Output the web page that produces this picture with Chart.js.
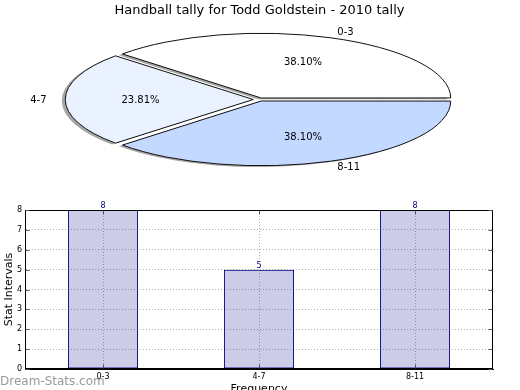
<!DOCTYPE html>
<html>
<head>
<meta charset="utf-8">
<script src="https://cdn.jsdelivr.net/npm/chart.js@4/dist/chart.umd.min.js"></script>
<style>
  html, body { margin: 0; padding: 0; background: #fff; }
  #wrap { position: relative; width: 520px; height: 390px; overflow: hidden; }
  #wrap canvas { position: absolute; left: 0; top: 0; }
</style>
</head>
<body>
<div id="wrap">
  <canvas id="barChart" width="520" height="390"></canvas>
  <canvas id="pieChart" width="520" height="390"></canvas>
</div>
<script>
'use strict';

// ── 데이터 ────────────────────────────────────────────
const TITLE = 'Handball tally for Todd Goldstein - 2010 tally';
const CATEGORIES = ['0-3', '4-7', '8-11'];
const COUNTS = [8, 5, 8];
const Y_TICKS = [0, 1, 2, 3, 4, 5, 6, 7, 8];
const PIE_COLORS = ['#ffffff', '#eaf1ff', '#c4d9ff'];

const FONT = '"DejaVu Sans", sans-serif';

// ── 파이 (타원) 설정 ──────────────────────────────────
const PIE_CX = 259.5, PIE_CY = 99.5;
const RX = 188, RY = 64.2;
const K = RY / RX;
const EXPLODE = 0.033;           // 반지름 대비
const DISP = EXPLODE * RX;       // 원 좌표계에서 밀려나는 거리

const total = COUNTS.reduce((s, v) => s + v, 0);

// Chart.js arc offset → 실제 이동량 보정
function arcOffset(c) {
  const circ = COUNTS[c.dataIndex] / total * Math.PI * 2;
  const fix = 1 - Math.sin(Math.min(Math.PI, circ));
  return 4 * DISP / (1 + fix);
}

const ellipsePlugin = {
  id: 'ellipse',
  beforeDatasetsDraw(chart) {
    const ctx = chart.ctx;
    const arc = chart.getDatasetMeta(0).data[0];
    ctx.save();
    ctx.translate(PIE_CX, PIE_CY);
    ctx.scale(1, -K);
    ctx.translate(-arc.x, -arc.y);
    ctx.shadowColor = 'rgba(77,77,77,0.5)';
    ctx.shadowOffsetX = -3.5;
    ctx.shadowOffsetY = 1.3;
    ctx.shadowBlur = 0;
    // 외곽선은 변형 없이 1px 로
    const stroke = ctx.stroke;
    ctx.stroke = function () {
      this.save();
      this.setTransform(1, 0, 0, 1, 0, 0);
      this.shadowColor = 'rgba(0,0,0,0)';
      stroke.call(this);
      this.restore();
    };
  },
  afterDatasetsDraw(chart) {
    const ctx = chart.ctx;
    delete ctx.stroke;
    ctx.restore();

    const meta = chart.getDatasetMeta(0);
    ctx.save();
    ctx.fillStyle = '#000';
    ctx.font = '10px ' + FONT;
    ctx.textBaseline = 'middle';
    meta.data.forEach((a, i) => {
      const mid = (a.startAngle + a.endAngle) / 2;
      const c = Math.cos(mid), s = Math.sin(mid);
      const r = a.outerRadius;
      const at = f => [PIE_CX + c * (DISP + f * r), PIE_CY - s * (DISP + f * r) * K];
      const [px, py] = at(0.6);
      ctx.textAlign = 'center';
      ctx.fillText((COUNTS[i] / total * 100).toFixed(2) + '%', px, py + 0.5);
      const [lx, ly] = at(1.1);
      ctx.textAlign = c > 0 ? 'left' : 'right';
      ctx.fillText(CATEGORIES[i], lx, ly + 0.5);
    });
    ctx.restore();
  }
};

new Chart(document.getElementById('pieChart'), {
  type: 'pie',
  data: {
    labels: CATEGORIES,
    datasets: [{
      data: COUNTS,
      backgroundColor: PIE_COLORS,
      borderColor: '#111',
      borderWidth: 1,
      borderJoinStyle: 'miter',
      offset: arcOffset,
      radius: RX,
      rotation: 90,
      clip: false,
    }]
  },
  options: {
    responsive: false,
    animation: false,
    events: [],
    layout: { padding: { right: 1 } },
    plugins: {
      legend: { display: false },
      tooltip: { enabled: false },
      title: {
        display: true,
        text: TITLE,
        color: '#000',
        font: { family: FONT, size: 13, weight: 'normal' },
        padding: { top: 3, bottom: 0 },
      }
    }
  },
  plugins: [ellipsePlugin]
});

// ── 막대 ─────────────────────────────────────────────
const framePlugin = {
  id: 'frame',
  afterDatasetsDraw(chart) {
    const { ctx, chartArea: a, scales } = chart;
    const l = Math.round(a.left) + 0.5, r = Math.round(a.right) - 0.5;
    const t = Math.round(a.top) + 0.5, b = Math.round(a.bottom) - 0.5;
    ctx.save();
    ctx.lineWidth = 1;
    ctx.strokeStyle = '#000';
    ctx.strokeRect(l, t, r - l, b - t);

    // 안쪽 눈금
    ctx.strokeStyle = '#555';
    ctx.beginPath();
    Y_TICKS.forEach(v => {
      const y = Math.round(scales.y.getPixelForValue(v)) + 0.5;
      ctx.moveTo(l, y); ctx.lineTo(l + 4, y);
      ctx.moveTo(r, y); ctx.lineTo(r - 4, y);
    });
    CATEGORIES.forEach((_, i) => {
      const x = Math.round(scales.x.getPixelForValue(i)) + 0.5;
      ctx.moveTo(x, b); ctx.lineTo(x, b - 4);
      ctx.moveTo(x, t); ctx.lineTo(x, t + 4);
    });
    ctx.stroke();

    // 값 라벨
    const meta = chart.getDatasetMeta(0);
    ctx.fillStyle = '#000080';
    ctx.font = '8px ' + FONT;
    ctx.textAlign = 'center';
    ctx.textBaseline = 'bottom';
    meta.data.forEach((bar, i) => ctx.fillText(String(COUNTS[i]), bar.x, bar.y));
    ctx.restore();
  },
  afterDraw(chart) {
    const ctx = chart.ctx;
    ctx.save();
    ctx.fillStyle = '#999';
    ctx.font = '12px ' + FONT;
    ctx.textAlign = 'left';
    ctx.textBaseline = 'alphabetic';
    ctx.fillText('Dream-Stats.com', 0, 384.5);
    ctx.restore();
  }
};

const gridOpts = { color: '#b0b0b0', drawTicks: false, lineWidth: 1 };
const borderOpts = { color: '#000', width: 1, dash: [1, 2] };

new Chart(document.getElementById('barChart'), {
  type: 'bar',
  data: {
    labels: CATEGORIES,
    datasets: [{
      data: COUNTS,
      backgroundColor: 'rgba(0,0,128,0.2)',
      borderColor: '#000080',
      borderWidth: 1,
      borderSkipped: false,
      barPercentage: 0.45,
      categoryPercentage: 1,
    }]
  },
  options: {
    responsive: false,
    animation: false,
    events: [],
    layout: { padding: { top: 210, right: 27, left: 0, bottom: 0 } },
    plugins: { legend: { display: false }, tooltip: { enabled: false } },
    scales: {
      x: {
        grid: { ...gridOpts, offset: false },
        border: borderOpts,
        ticks: { color: '#000', font: { family: FONT, size: 8 }, padding: 3, maxRotation: 0 },
        title: {
          display: true, text: 'Frequency', color: '#000',
          font: { family: FONT, size: 11 }, padding: { top: 0, bottom: -5.6 }
        },
        afterFit: s => { s.height = 21; }
      },
      y: {
        min: 0, max: 8,
        grid: gridOpts,
        border: borderOpts,
        afterBuildTicks: s => { s.ticks = Y_TICKS.map(v => ({ value: v })); },
        ticks: { color: '#000', font: { family: FONT, size: 8 }, padding: 3 },
        title: {
          display: true, text: 'Stat Intervals', color: '#000',
          font: { family: FONT, size: 11 }, padding: { top: 3, bottom: 0 }
        },
        afterFit: s => { s.width = 25; }
      }
    }
  },
  plugins: [framePlugin]
});
</script>
</body>
</html>
